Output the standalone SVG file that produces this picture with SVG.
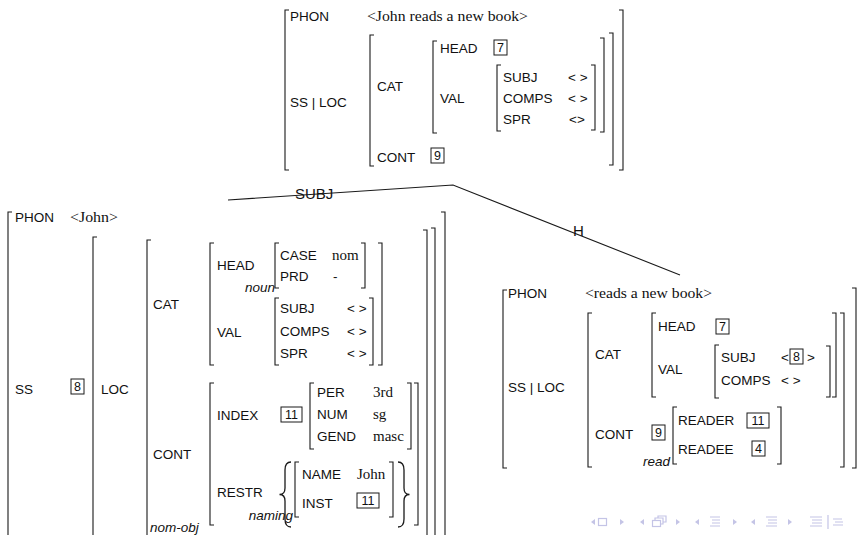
<svg xmlns="http://www.w3.org/2000/svg" width="859" height="535" viewBox="0 0 859 535">
  <style>
    .br { fill: none; stroke: #1a1a1a; stroke-width: 1.1; }
    .brace { fill: none; stroke: #1a1a1a; stroke-width: 1.3; }
    .edge { fill: none; stroke: #1a1a1a; stroke-width: 1.1; }
    .f { font-family: "Liberation Sans", Arial, sans-serif; font-size: 13.5px; fill: #111; }
    .it { font-family: "Liberation Sans", Arial, sans-serif; font-size: 13.5px; font-style: italic; fill: #111; }
    .v { font-family: "Liberation Serif", "Times New Roman", serif; font-size: 15px; fill: #111; }
    .lbl { font-family: "Liberation Sans", Arial, sans-serif; font-size: 15px; fill: #111; }
    .tag rect { fill: none; stroke: #1a1a1a; stroke-width: 1; }
    .tag text { font-family: "Liberation Sans", Arial, sans-serif; font-size: 12.5px; fill: #111; text-anchor: middle; }
    .nav { fill: #c4c4e6; stroke: none; }
    .navs { fill: none; stroke: #c4c4e6; stroke-width: 1.2; }
  </style>

  <!-- mother: John reads a new book -->
  <g id="avm-mother">
    <path class="br" d="M289,10 H285 V170 H289"/>
    <path class="br" d="M619,10 H623 V170 H619"/>
    <path class="br" d="M374,35 H370 V166 H374"/>
    <path class="br" d="M609,33 H613 V165 H609"/>
    <path class="br" d="M437,41 H433 V133 H437"/>
    <path class="br" d="M600,38 H604 V132 H600"/>
    <path class="br" d="M501,65 H497 V131 H501"/>
    <path class="br" d="M591,65 H595 V130 H591"/>

    <text class="f" x="290" y="21">PHON</text>
    <text class="v" x="367" y="21" textLength="161" lengthAdjust="spacingAndGlyphs">&lt;John reads a new book&gt;</text>
    <text class="f" x="290" y="107">SS | LOC</text>
    <text class="f" x="377" y="91">CAT</text>
    <text class="f" x="377" y="162">CONT</text>
    <g class="tag"><rect x="431" y="148" width="13" height="15"/><text x="437.5" y="160">9</text></g>
    <text class="f" x="440" y="53">HEAD</text>
    <g class="tag"><rect x="494" y="40" width="13" height="15"/><text x="500.5" y="52">7</text></g>
    <text class="f" x="440" y="103">VAL</text>
    <text class="f" x="503" y="82">SUBJ</text>
    <text class="f" x="503" y="103">COMPS</text>
    <text class="f" x="503" y="124">SPR</text>
    <text class="f" x="568" y="82">&lt; &gt;</text>
    <text class="f" x="568" y="103">&lt; &gt;</text>
    <text class="f" x="569" y="124">&lt;&gt;</text>
  </g>

  <!-- subject daughter: John -->
  <g id="avm-subject">
    <path class="br" d="M12,212 H8 V540"/>
    <path class="br" d="M441,212 H445 V540"/>
    <path class="br" d="M97,237 H93 V540"/>
    <path class="br" d="M431,228 H435 V540"/>
    <path class="br" d="M151,240 H147 V540"/>
    <path class="br" d="M423,230 H427 V540"/>
    <!-- CAT value -->
    <path class="br" d="M214,243 H210 V365 H214"/>
    <path class="br" d="M378,243 H382 V365 H378"/>
    <path class="br" d="M279,243 H275 V288 H279"/>
    <path class="br" d="M361,243 H365 V288 H361"/>
    <path class="br" d="M279,298 H275 V365 H279"/>
    <path class="br" d="M369,298 H373 V365 H369"/>
    <!-- CONT value -->
    <path class="br" d="M214,383 H210 V525 H214"/>
    <path class="br" d="M414,383 H418 V525 H414"/>
    <path class="br" d="M314,383 H310 V449 H314"/>
    <path class="br" d="M407,383 H411 V449 H407"/>
    <path class="br" d="M299,462 H295 V517 H299"/>
    <path class="br" d="M389,462 H393 V517 H389"/>
    <path class="brace" d="M291,462 Q285,462 285,470 L285,488 Q285,494.5 279.5,494.5 Q285,494.5 285,501 L285,519 Q285,527 291,527"/>
    <path class="brace" d="M398,462 Q404,462 404,470 L404,488 Q404,494.5 409.5,494.5 Q404,494.5 404,501 L404,519 Q404,527 398,527"/>

    <text class="f" x="15" y="222">PHON</text>
    <text class="v" x="70" y="222" textLength="48" lengthAdjust="spacingAndGlyphs">&lt;John&gt;</text>
    <text class="f" x="15" y="394">SS</text>
    <g class="tag"><rect x="71" y="379" width="13" height="15"/><text x="77.5" y="391">8</text></g>
    <text class="f" x="101" y="394">LOC</text>
    <text class="f" x="153" y="309">CAT</text>
    <text class="f" x="153" y="459">CONT</text>
    <text class="it" x="150" y="532">nom-obj</text>

    <text class="f" x="217" y="270">HEAD</text>
    <text class="it" x="275" y="292" text-anchor="end">noun</text>
    <text class="f" x="280" y="260">CASE</text>
    <text class="v" x="332" y="260">nom</text>
    <text class="f" x="280" y="281">PRD</text>
    <text class="f" x="333" y="281">-</text>
    <text class="f" x="217" y="337">VAL</text>
    <text class="f" x="280" y="313">SUBJ</text>
    <text class="f" x="280" y="336">COMPS</text>
    <text class="f" x="280" y="358">SPR</text>
    <text class="f" x="347" y="313">&lt; &gt;</text>
    <text class="f" x="347" y="336">&lt; &gt;</text>
    <text class="f" x="347" y="358">&lt; &gt;</text>

    <text class="f" x="217" y="420">INDEX</text>
    <g class="tag"><rect x="281" y="407" width="21" height="15"/><text x="291.5" y="419">11</text></g>
    <text class="f" x="317" y="397">PER</text>
    <text class="v" x="373" y="397">3rd</text>
    <text class="f" x="317" y="419">NUM</text>
    <text class="v" x="373" y="419">sg</text>
    <text class="f" x="317" y="441">GEND</text>
    <text class="v" x="373" y="441">masc</text>
    <text class="f" x="217" y="497">RESTR</text>
    <text class="it" x="293" y="520" text-anchor="end">naming</text>
    <text class="f" x="302" y="479">NAME</text>
    <text class="v" x="357" y="479">John</text>
    <text class="f" x="302" y="508">INST</text>
    <g class="tag"><rect x="357" y="493" width="22" height="15"/><text x="368" y="505">11</text></g>
  </g>

  <!-- head daughter: reads a new book -->
  <g id="avm-head">
    <path class="br" d="M507,290 H503 V468 H507"/>
    <path class="br" d="M852,288 H856 V468 H852"/>
    <path class="br" d="M592,313 H588 V467 H592"/>
    <path class="br" d="M840,313 H844 V467 H840"/>
    <path class="br" d="M656,313 H652 V397 H656"/>
    <path class="br" d="M832,313 H836 V397 H832"/>
    <path class="br" d="M719,345 H715 V398 H719"/>
    <path class="br" d="M826,346 H830 V397 H826"/>
    <path class="br" d="M677,407 H673 V464 H677"/>
    <path class="br" d="M777,407 H781 V464 H777"/>

    <text class="f" x="508" y="298">PHON</text>
    <text class="v" x="585" y="298" textLength="127" lengthAdjust="spacingAndGlyphs">&lt;reads a new book&gt;</text>
    <text class="f" x="508" y="392">SS | LOC</text>
    <text class="f" x="595" y="359">CAT</text>
    <text class="f" x="595" y="439">CONT</text>
    <text class="f" x="658" y="331">HEAD</text>
    <g class="tag"><rect x="716" y="319" width="13" height="15"/><text x="722.5" y="331">7</text></g>
    <text class="f" x="658" y="374">VAL</text>
    <text class="f" x="721" y="362">SUBJ</text>
    <text class="f" x="781" y="362">&lt;</text>
    <g class="tag"><rect x="790" y="349" width="13" height="15"/><text x="796.5" y="361">8</text></g>
    <text class="f" x="807" y="362">&gt;</text>
    <text class="f" x="781" y="385">&lt; &gt;</text>
    <text class="f" x="721" y="385">COMPS</text>
    <g class="tag"><rect x="652" y="425" width="13" height="15"/><text x="658.5" y="437">9</text></g>
    <text class="it" x="670" y="466" text-anchor="end">read</text>
    <text class="f" x="678" y="425">READER</text>
    <g class="tag"><rect x="747" y="413" width="22" height="15"/><text x="758" y="425">11</text></g>
    <text class="f" x="678" y="454">READEE</text>
    <g class="tag"><rect x="752" y="441" width="13" height="15"/><text x="758.5" y="453">4</text></g>
  </g>

  <!-- tree branches -->
  <g id="connectors">
    <polyline class="edge" points="228,200 453,185 680,275"/>
    <text class="lbl" x="295" y="199">SUBJ</text>
    <text class="lbl" x="573" y="236">H</text>
  </g>

  <!-- beamer navigation symbols -->
  <g id="navigation">
    <polygon class="nav" points="595,519 591,522 595,525"/>
    <rect class="navs" x="598.5" y="518.5" width="8" height="7"/>
    <polygon class="nav" points="620,519 624,522 620,525"/>
    <polygon class="nav" points="644,519 640,522 644,525"/>
    <rect class="navs" x="652.5" y="520.5" width="8" height="6"/>
    <path class="navs" d="M655,520 V518 H663 V524 H661 M658,518 V516 H666 V522 H663"/>
    <polygon class="nav" points="676,519 680,522 676,525"/>
    <polygon class="nav" points="699,519 695,522 699,525"/>
    <path class="navs" d="M710,517 H720 M712,520 H720 M712,523 H720 M710,526 H720"/>
    <polygon class="nav" points="733,519 737,522 733,525"/>
    <polygon class="nav" points="755,519 751,522 755,525"/>
    <path class="navs" d="M766,517 H777 M768,520 H777 M768,523 H777 M766,526 H777"/>
    <polygon class="nav" points="788,519 792,522 788,525"/>
    <path class="navs" d="M810,517 H822 M812,520 H822 M812,523 H822 M810,526 H822"/>
    <path class="navs" d="M828,515 V529"/>
    <path class="navs" d="M833,519 H842 M835,522 H843 M833,525 H843"/>
  </g>
</svg>
